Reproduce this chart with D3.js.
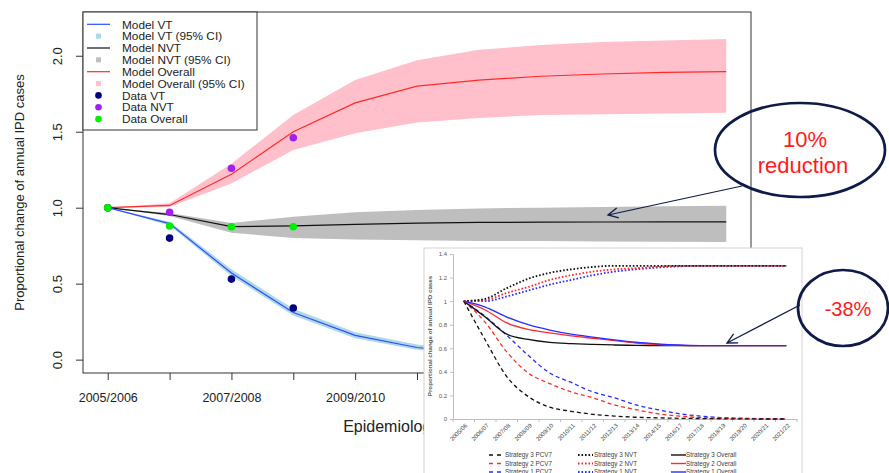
<!DOCTYPE html>
<html>
<head>
<meta charset="utf-8">
<script src="https://cdn.jsdelivr.net/npm/d3@7"></script>
<style>
  body { margin: 0; background: #fff; }
  svg { display: block; }
</style>
</head>
<body>
<div id="chart"></div>
<script>
// main chart data
var seasons = ["2005/2006","2006/2007","2007/2008","2008/2009","2009/2010","2010/2011",
               "2011/2012","2012/2013","2013/2014","2014/2015","2015/2016"];
var modelVT     = [1.0, 0.895, 0.57, 0.31, 0.16, 0.08, 0.04, 0.02, 0.01, 0.005, 0.003];
var modelVTlo   = [1.0, 0.883, 0.55, 0.29, 0.14, 0.065, 0.03, 0.012, 0.005, 0.002, 0.001];
var modelVThi   = [1.0, 0.907, 0.595, 0.335, 0.18, 0.10, 0.055, 0.03, 0.018, 0.01, 0.006];
var modelNVT    = [1.0, 0.955, 0.875, 0.88, 0.89, 0.898, 0.903, 0.905, 0.906, 0.907, 0.907];
var modelNVTlo  = [1.0, 0.945, 0.835, 0.80, 0.79, 0.785, 0.78, 0.78, 0.778, 0.776, 0.775];
var modelNVThi  = [1.0, 0.965, 0.90, 0.94, 0.97, 0.985, 0.995, 1.0, 1.005, 1.01, 1.013];
var modelAll    = [1.0, 1.015, 1.22, 1.50, 1.69, 1.80, 1.84, 1.865, 1.88, 1.89, 1.895];
var modelAlllo  = [1.0, 1.005, 1.16, 1.38, 1.49, 1.56, 1.59, 1.61, 1.615, 1.62, 1.625];
var modelAllhi  = [1.0, 1.03, 1.29, 1.61, 1.84, 1.97, 2.04, 2.07, 2.09, 2.10, 2.11];
var dataVT      = [1.0, 0.80, 0.53, 0.34];
var dataNVT     = [1.0, 0.97, 1.26, 1.46];
var dataAll     = [1.0, 0.88, 0.875, 0.875];
var yTicks      = [0, 0.5, 1.0, 1.5, 2.0];
var legendNames = ["Model VT","Model VT (95% CI)","Model NVT","Model NVT (95% CI)","Model Overall",
                   "Model Overall (95% CI)","Data VT","Data NVT","Data Overall"];

// inset chart data
var insetCats = ["2005/06","2006/07","2007/08","2008/09","2009/10","2010/11","2011/12","2012/13",
                 "2013/14","2014/15","2016/17","2017/18","2018/19","2019/20","2020/21","2021/22"];
var s3PCV7 = [1.0, 0.67, 0.36, 0.19, 0.10, 0.065, 0.04, 0.025, 0.015, 0.01, 0.006, 0.004, 0.002, 0.001, 0, 0];
var s2PCV7 = [1.0, 0.82, 0.57, 0.39, 0.30, 0.23, 0.18, 0.12, 0.08, 0.045, 0.025, 0.012, 0.006, 0.003, 0.001, 0];
var s1PCV7 = [1.0, 0.87, 0.71, 0.54, 0.39, 0.31, 0.23, 0.18, 0.12, 0.08, 0.045, 0.025, 0.012, 0.006, 0.002, 0];
var s3NVT  = [1.0, 1.02, 1.11, 1.19, 1.24, 1.27, 1.29, 1.30, 1.30, 1.30, 1.30, 1.30, 1.30, 1.30, 1.30, 1.30];
var s2NVT  = [1.0, 1.01, 1.07, 1.12, 1.18, 1.22, 1.25, 1.27, 1.28, 1.29, 1.30, 1.30, 1.30, 1.30, 1.30, 1.30];
var s1NVT  = [1.0, 1.0, 1.04, 1.09, 1.14, 1.18, 1.22, 1.25, 1.27, 1.285, 1.295, 1.30, 1.30, 1.30, 1.30, 1.30];
var s3All  = [1.0, 0.865, 0.72, 0.675, 0.65, 0.64, 0.633, 0.628, 0.625, 0.623, 0.622, 0.622, 0.622, 0.622, 0.622, 0.622];
var s2All  = [1.0, 0.925, 0.815, 0.76, 0.73, 0.705, 0.685, 0.665, 0.645, 0.632, 0.625, 0.622, 0.622, 0.622, 0.622, 0.622];
var s1All  = [1.0, 0.95, 0.865, 0.80, 0.755, 0.72, 0.695, 0.672, 0.652, 0.638, 0.628, 0.623, 0.622, 0.622, 0.622, 0.622];
var insetTicks = [0, 0.2, 0.4, 0.6, 0.8, 1, 1.2, 1.4];

var W = 889, H = 473;
var svg = d3.select("#chart").append("svg").attr("width", W).attr("height", H)
    .style("font-family", "'Liberation Sans', Arial, sans-serif");

// ---- main chart ----
var box = {l: 83, r: 751, t: 12, b: 373};
var x = d3.scaleLinear().domain([-0.4, 10.4]).range([box.l, box.r]);
var y = d3.scaleLinear().domain([-0.088, 2.288]).range([box.b, box.t]);

function band(lo, hi) {
  return d3.area().x(function(d, i) { return x(i); })
    .y0(function(d, i) { return y(lo[i]); })
    .y1(function(d, i) { return y(hi[i]); })(lo);
}
var line = d3.line().x(function(d, i) { return x(i); }).y(function(d) { return y(d); });

var main = svg.append("g");
main.append("path").attr("d", band(modelAlllo, modelAllhi)).attr("fill", "#ffc0cb");
main.append("path").attr("d", band(modelNVTlo, modelNVThi)).attr("fill", "#bebebe");
main.append("path").attr("d", band(modelVTlo, modelVThi)).attr("fill", "#add8e6");
main.append("path").attr("d", line(modelAll)).attr("fill", "none").attr("stroke", "#ff2a2a").attr("stroke-width", 1.2);
main.append("path").attr("d", line(modelNVT)).attr("fill", "none").attr("stroke", "#111").attr("stroke-width", 1.2);
main.append("path").attr("d", line(modelVT)).attr("fill", "none").attr("stroke", "#2f4dff").attr("stroke-width", 1.2);

function dots(arr, col) {
  main.selectAll(null).data(arr).enter().append("circle")
    .attr("cx", function(d, i) { return x(i); })
    .attr("cy", function(d) { return y(d); })
    .attr("r", 3.8).attr("fill", col);
}
dots(dataVT, "#000080");
dots(dataNVT, "#a020f0");
dots(dataAll, "#00ee00");

// axes
var xAxis = d3.axisBottom(x).tickValues(d3.range(seasons.length)).tickSize(7).tickPadding(13)
  .tickFormat(function(i) { return i % 2 === 0 ? seasons[i] : ""; });
var gx = main.append("g").attr("transform", "translate(0," + box.b + ")").call(xAxis);
gx.select(".domain").remove();
gx.selectAll("line").attr("stroke", "#333");
gx.selectAll("text").attr("fill", "#222").style("font-size", "12.5px").style("font-family", "inherit");

var yAxis = d3.axisLeft(y).tickValues(yTicks).tickSize(7).tickFormat(d3.format(".1f"));
var gy = main.append("g").attr("transform", "translate(" + box.l + ",0)").call(yAxis);
gy.select(".domain").remove();
gy.selectAll("line").attr("stroke", "#333");
gy.selectAll("text").attr("x", null).attr("dy", null).attr("text-anchor", "middle")
  .attr("transform", "translate(-21,0) rotate(-90)")
  .attr("fill", "#222").style("font-size", "13px").style("font-family", "inherit");

main.append("rect").attr("x", box.l).attr("y", box.t).attr("width", box.r - box.l).attr("height", box.b - box.t)
  .attr("fill", "none").attr("stroke", "#333").attr("stroke-width", 1);

main.append("text").attr("transform", "translate(24," + ((box.t + box.b) / 2) + ") rotate(-90)")
  .attr("text-anchor", "middle").style("font-size", "13px").attr("fill", "#222")
  .text("Proportional change of annual IPD cases");
main.append("text").attr("x", (box.l + box.r) / 2).attr("y", 432).attr("text-anchor", "middle")
  .style("font-size", "16px").attr("fill", "#222").text("Epidemiological year");

// legend
var leg = main.append("g");
leg.append("rect").attr("x", box.l).attr("y", box.t).attr("width", 174).attr("height", 118)
  .attr("fill", "#fff").attr("stroke", "#333");
var legKinds = [["line","#2f4dff"],["sq","#add8e6"],["line","#111"],["sq","#bebebe"],["line","#ff2a2a"],
                ["sq","#ffc0cb"],["dot","#000080"],["dot","#a020f0"],["dot","#00ee00"]];
legendNames.forEach(function(name, i) {
  var ly = 24.3 + i * 11.85;
  var k = legKinds[i];
  if (k[0] === "line") leg.append("line").attr("x1", 87).attr("x2", 110).attr("y1", ly).attr("y2", ly)
      .attr("stroke", k[1]).attr("stroke-width", 1.2);
  else if (k[0] === "sq") leg.append("rect").attr("x", 96).attr("y", ly - 2.5).attr("width", 5).attr("height", 5).attr("fill", k[1]);
  else leg.append("circle").attr("cx", 98.5).attr("cy", ly).attr("r", 3.3).attr("fill", k[1]);
  leg.append("text").attr("x", 122).attr("y", ly + 4.2).style("font-size", "11.8px").attr("fill", "#222").text(name);
});

// ---- inset chart ----
var ins = svg.append("g");
ins.append("rect").attr("x", 424).attr("y", 248).attr("width", 378).attr("height", 240)
  .attr("fill", "#fff").attr("stroke", "#d4d4d4");
var xi = d3.scaleBand().domain(insetCats).range([453, 797]);
var yi = d3.scaleLinear().domain([0, 1.4]).range([419, 254]);
var cx = function(i) { return xi(insetCats[i]) + xi.bandwidth() / 2; };

var gyi = ins.append("g").attr("transform", "translate(453,0)")
  .call(d3.axisLeft(yi).tickValues(insetTicks).tickSize(3).tickPadding(3).tickFormat(d3.format("")));
gyi.selectAll("path,line").attr("stroke", "#bfbfbf");
gyi.selectAll("text").attr("fill", "#595959").style("font-size", "6px");

var gxi = ins.append("g").attr("transform", "translate(0,419)")
  .call(d3.axisBottom(xi).tickSize(0).tickFormat(""));
gxi.select(".domain").attr("stroke", "#bfbfbf");
gxi.selectAll(null).data(d3.range(insetCats.length + 1)).enter().append("line")
  .attr("x1", function(i) { return 453 + i * xi.step(); }).attr("x2", function(i) { return 453 + i * xi.step(); })
  .attr("y1", 0).attr("y2", 3).attr("stroke", "#bfbfbf");
ins.selectAll(null).data(insetCats).enter().append("text")
  .attr("transform", function(d, i) { return "translate(" + (cx(i) + 4) + ",426) rotate(-45)"; })
  .attr("text-anchor", "end").style("font-size", "6px").attr("fill", "#404040").text(function(d) { return d; });

ins.append("text").attr("transform", "translate(432,336) rotate(-90)").attr("text-anchor", "middle")
  .style("font-size", "6.2px").style("font-weight", "bold").attr("fill", "#595959")
  .text("Proportional change of annual IPD cases");

var iline = d3.line().x(function(d, i) { return cx(i); }).y(function(d) { return yi(d); }).curve(d3.curveMonotoneX);
var insetSeries = [
  [s1PCV7, "#2a2aff", "dash"], [s2PCV7, "#ff2a2a", "dash"], [s3PCV7, "#111", "dash"],
  [s1NVT, "#2a2aff", "dot"], [s2NVT, "#ff2a2a", "dot"], [s3NVT, "#111", "dot"],
  [s3All, "#111", "solid"], [s2All, "#ff2a2a", "solid"], [s1All, "#2a2aff", "solid"]
];
var dashes = {dash: "4,3", dot: "1.6,1.9", solid: null};
insetSeries.forEach(function(s) {
  ins.append("path").attr("d", iline(s[0])).attr("fill", "none").attr("stroke", s[1])
    .attr("stroke-width", s[2] === "dot" ? 1.8 : 1.3).attr("stroke-dasharray", dashes[s[2]]);
});

// inset legend
var legRows = [["3", "#111"], ["2", "#ff2a2a"], ["1", "#2a2aff"]];
legRows.forEach(function(r, i) {
  var ly = 455 + i * 8.5;
  ins.append("line").attr("x1", 489).attr("x2", 503).attr("y1", ly).attr("y2", ly).attr("stroke", r[1])
    .attr("stroke-width", 1.4).attr("stroke-dasharray", "4,4");
  ins.append("text").attr("x", 505).attr("y", ly + 2.2).style("font-size", "6.3px").attr("fill", "#404040")
    .text("Strategy " + r[0] + " PCV7");
  ins.append("line").attr("x1", 578).attr("x2", 593).attr("y1", ly).attr("y2", ly).attr("stroke", r[1])
    .attr("stroke-width", 1.8).attr("stroke-dasharray", "1.6,1.9");
  ins.append("text").attr("x", 594).attr("y", ly + 2.2).style("font-size", "6.3px").attr("fill", "#404040")
    .text("Strategy " + r[0] + " NVT");
  ins.append("line").attr("x1", 671).attr("x2", 686).attr("y1", ly).attr("y2", ly).attr("stroke", r[1])
    .attr("stroke-width", 1.4);
  ins.append("text").attr("x", 686).attr("y", ly + 2.2).style("font-size", "6.3px").attr("fill", "#404040")
    .text("Strategy " + r[0] + " Overall");
});

// ---- annotations ----
var navy = "#0f1a48";
svg.append("defs").append("marker").attr("id", "arr").attr("markerUnits", "userSpaceOnUse")
  .attr("markerWidth", 14).attr("markerHeight", 14).attr("refX", 11).attr("refY", 6).attr("orient", "auto")
  .append("path").attr("d", "M1,1 L11,6 L1,11").attr("fill", "none").attr("stroke", navy).attr("stroke-width", 1.3);

var ann = svg.append("g");
ann.append("line").attr("x1", 742).attr("y1", 186).attr("x2", 608).attr("y2", 215)
  .attr("stroke", navy).attr("stroke-width", 1.2).attr("marker-end", "url(#arr)");
ann.append("ellipse").attr("cx", 800).attr("cy", 150).attr("rx", 85).attr("ry", 47)
  .attr("fill", "none").attr("stroke", navy).attr("stroke-width", 2.7);
ann.append("text").attr("x", 805).attr("y", 147).attr("text-anchor", "middle").attr("fill", "#ff1a1a")
  .style("font-size", "22px").text("10%");
ann.append("text").attr("x", 803).attr("y", 173).attr("text-anchor", "middle").attr("fill", "#ff1a1a")
  .style("font-size", "22px").text("reduction");

ann.append("line").attr("x1", 800).attr("y1", 305).attr("x2", 727).attr("y2", 343)
  .attr("stroke", navy).attr("stroke-width", 1.2).attr("marker-end", "url(#arr)");
ann.append("ellipse").attr("cx", 843).attr("cy", 308).attr("rx", 45).attr("ry", 38)
  .attr("fill", "none").attr("stroke", navy).attr("stroke-width", 2.7);
ann.append("text").attr("x", 848).attr("y", 316).attr("text-anchor", "middle").attr("fill", "#ff1a1a")
  .style("font-size", "20px").text("-38%");
</script>
</body>
</html>
